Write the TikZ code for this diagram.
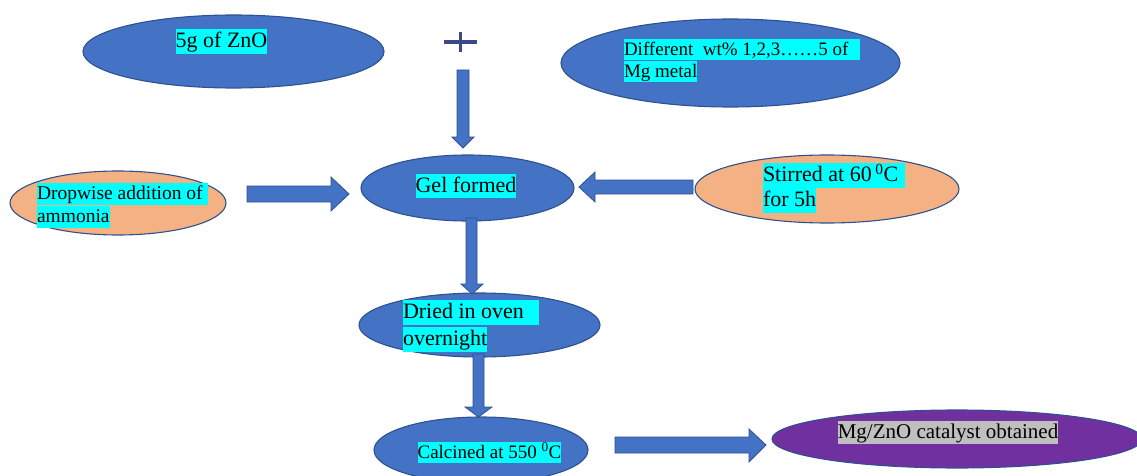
\documentclass[tikz,border=0pt]{standalone}
\usepackage{fontspec}
\setmainfont{Liberation Serif}
\usetikzlibrary{shapes.geometric}
\definecolor{fillblue}{HTML}{4472C4}
\definecolor{edgeblue}{HTML}{2F528F}
\definecolor{peach}{HTML}{F4B183}
\definecolor{violetfill}{HTML}{7030A0}
\definecolor{hlcyan}{HTML}{00FFFF}
\definecolor{hlgray}{HTML}{BFBFBF}
\definecolor{plusblue}{HTML}{3E4789}
\newcommand{\hlbox}[2][hlcyan]{{\setlength{\fboxsep}{0pt}\colorbox{#1}{\rule[-0.27em]{0pt}{1.12em}#2}}}
\tikzset{
  oval/.style={ellipse, draw=edgeblue, line width=1.1pt, inner sep=0pt, outer sep=0pt},
  blueoval/.style={oval, fill=fillblue},
  peachoval/.style={oval, fill=peach},
  purpleoval/.style={oval, fill=violetfill},
  txt/.style={inner sep=0pt, outer sep=0pt, align=left, text=black},
  blockarrow/.style={fill=fillblue, draw=edgeblue, line width=0.8pt, line join=miter},
  plussign/.style={draw=plusblue, line width=3.6pt},
}
\begin{document}
\begin{tikzpicture}[x=1pt,y=-1pt]
\useasboundingbox (0,0) rectangle (1137,476);
% ovals
\node[blueoval, minimum width=301pt, minimum height=73pt] (zno) at (233.5,51.5) {};
\node[blueoval, minimum width=339pt, minimum height=88pt] (mg) at (730.5,63) {};
\node[peachoval, minimum width=216pt, minimum height=64pt] (drop) at (118,203) {};
\node[blueoval, minimum width=213pt, minimum height=66pt] (gel) at (467.5,188) {};
\node[peachoval, minimum width=264pt, minimum height=68pt] (stir) at (827,189) {};
\node[blueoval, minimum width=241pt, minimum height=64pt] (dried) at (479.5,325) {};
\node[blueoval, minimum width=214pt, minimum height=66pt] (calc) at (481,450) {};
\node[purpleoval, minimum width=370pt, minimum height=58pt] (prod) at (957,439) {};
% plus sign
\draw[plussign] (444,42) -- (477,42) (460.5,32) -- (460.5,52);
% block arrows
\draw[blockarrow] (457,70) -- (469,70) -- (469,137) -- (474,137) -- (463,148) -- (452,137) -- (457,137) -- cycle;
\draw[blockarrow] (247,186) -- (331,186) -- (331,177) -- (349,194) -- (331,211) -- (331,202) -- (247,202) -- cycle;
\draw[blockarrow] (693,180) -- (595,180) -- (595,172) -- (579,187) -- (595,202) -- (595,194) -- (693,194) -- cycle;
\draw[blockarrow] (466,218) -- (477,218) -- (477,284) -- (483,284) -- (472,294) -- (461,284) -- (466,284) -- cycle;
\draw[blockarrow] (473,354) -- (484,354) -- (484,407) -- (492,407) -- (478.5,417) -- (465,407) -- (473,407) -- cycle;
\draw[blockarrow] (615,437) -- (749,437) -- (749,429) -- (766,445) -- (749,462) -- (749,453) -- (615,453) -- cycle;
% texts
\node[txt, font=\fontsize{22}{25}\selectfont] (znotext) at (221.5,41.5) {\hlbox{5g of ZnO}};
\node[txt, anchor=north west, font=\fontsize{19}{22}\selectfont] (mgtext) at (624,39)
  {\hlbox{Different\ \ wt\% 1,2,3……5 of\hspace{0.6em}}\\\hlbox{Mg metal}};
\node[txt, anchor=north west, font=\fontsize{19.5}{23}\selectfont] (droptext) at (37,183)
  {\hlbox{Dropwise addition of\hspace{0.25em}}\\\hlbox{ammonia}};
\node[txt, font=\fontsize{22}{25}\selectfont] (geltext) at (466,186) {\hlbox{Gel formed}};
\node[txt, anchor=north west, font=\fontsize{22}{25}\selectfont] (stirtext) at (763,163)
  {\hlbox{Stirred at 60\,\textsuperscript{0}C\hspace{0.3em}}\\\hlbox{for 5h}};
\node[txt, anchor=north west, font=\fontsize{22}{27}\selectfont] (driedtext) at (403,300)
  {\hlbox{Dried in oven\hspace{0.7em}}\\\hlbox{overnight}};
\node[txt, font=\fontsize{19}{22}\selectfont] (calctext) at (489.5,452.5) {\hlbox{Calcined at 550 \textsuperscript{0}C}};
\node[txt, font=\fontsize{21}{24}\selectfont] (prodtext) at (948,432.5) {\hlbox[hlgray]{Mg/ZnO catalyst obtained}};
\end{tikzpicture}
\end{document}
